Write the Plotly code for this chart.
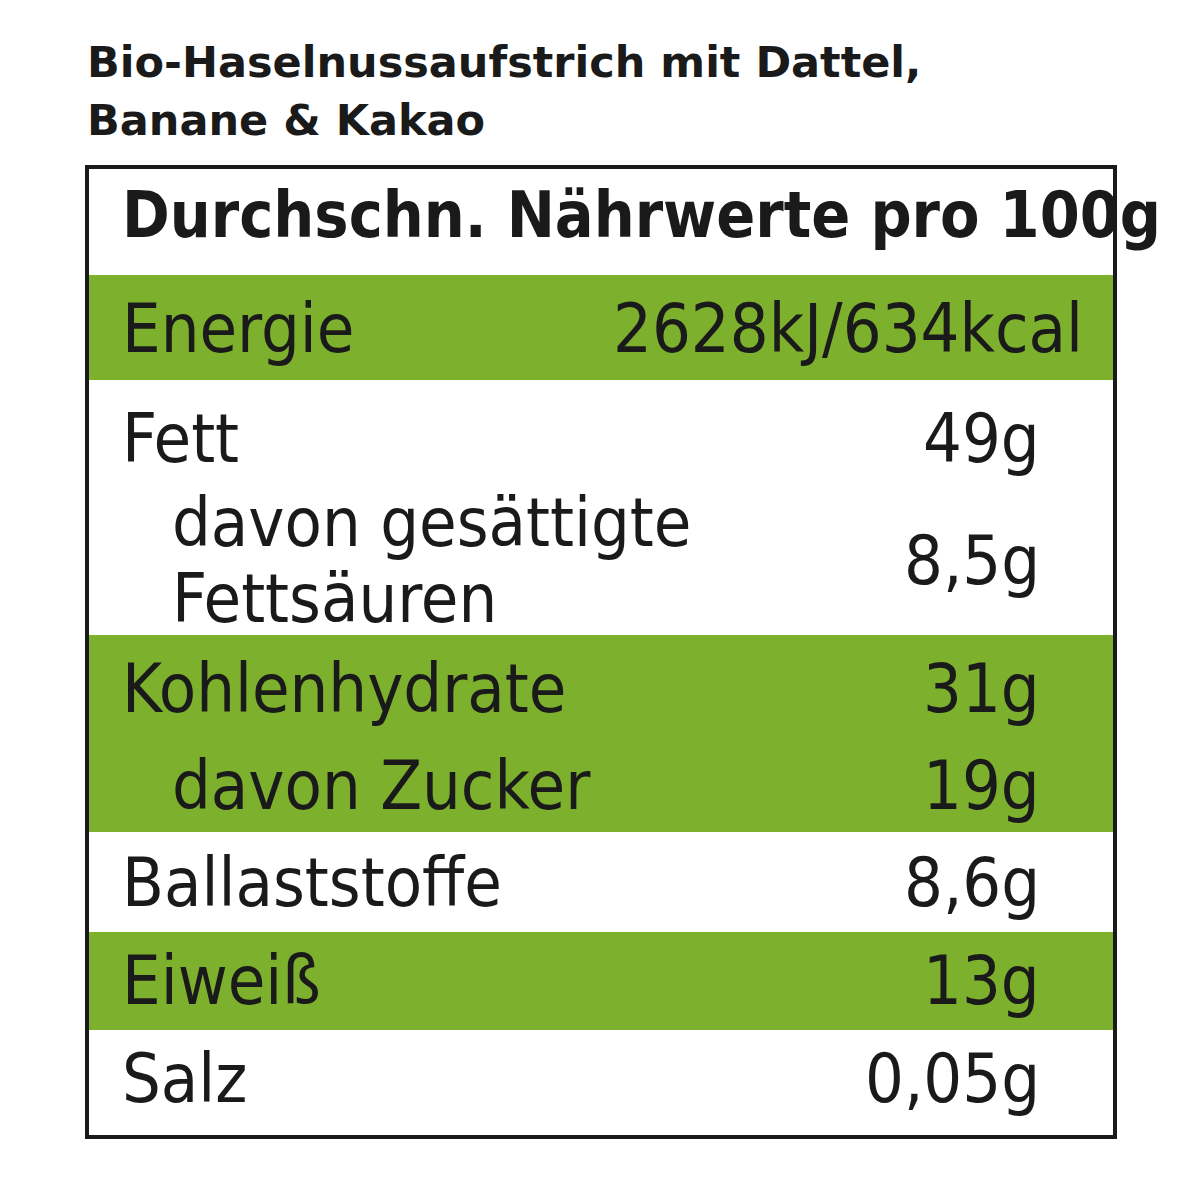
import plotly.graph_objects as go

title_lines = ["Bio-Haselnussaufstrich mit Dattel,", "Banane & Kakao"]
header = "Durchschn. Nährwerte pro 100g"
labels = ["Energie", "Fett", "davon gesättigte", "Fettsäuren", "Kohlenhydrate", "davon Zucker",
          "Ballaststoffe", "Eiweiß", "Salz"]
label_y = [328, 438, 522, 598, 688, 785, 882, 980, 1078]
indent = [False, False, True, True, False, True, False, False, False]
values = ["2628kJ/634kcal", "49g", "8,5g", "31g", "19g", "8,6g", "13g", "0,05g"]
value_y = [328, 438, 560, 688, 785, 882, 980, 1078]
green_bands = [(275, 380), (635, 832), (932, 1030)]
GREEN = "#7db12d"
FONT = "Liberation Sans Narrow, DejaVu Sans Condensed, Arial Narrow, sans-serif"
OFF = 8  # page body margin compensation

fig = go.Figure()
shapes = []
for y0, y1 in green_bands:
    shapes.append(dict(type="rect", x0=89 - OFF, x1=1113 - OFF, y0=y0 - OFF, y1=y1 - OFF,
                       fillcolor=GREEN, line_width=0, layer="below"))
shapes.append(dict(type="rect", x0=87 - OFF, x1=1115 - OFF, y0=167 - OFF, y1=1137 - OFF,
                   line=dict(color="#1a1a1a", width=4)))

ann = []
for i, t in enumerate(title_lines):
    ann.append(dict(x=85 - OFF, y=62 + 58 * i - OFF, text=f"<b>{t}</b>", xanchor="left", yanchor="middle",
                    showarrow=False, font=dict(family="DejaVu Sans, sans-serif", size=43, color="#1a1a1a")))
ann.append(dict(x=120 - OFF, y=215 - OFF, text=f"<b>{header}</b>", xanchor="left", yanchor="middle",
                showarrow=False, font=dict(family=FONT, size=64, color="#1a1a1a")))
for lab, ind, y in zip(labels, indent, label_y):
    ann.append(dict(x=(170 if ind else 120) - OFF, y=y - OFF, text=lab, xanchor="left", yanchor="middle",
                    showarrow=False, font=dict(family=FONT, size=68, color="#1a1a1a")))
for val, y in zip(values, value_y):
    ann.append(dict(x=(1085 if val.endswith("kcal") else 1042) - OFF, y=y - OFF, text=val, xanchor="right",
                    yanchor="middle", showarrow=False, font=dict(family=FONT, size=68, color="#1a1a1a")))

fig.add_trace(go.Scatter(x=[0, 1200], y=[0, 1200], mode="markers", marker_opacity=0, hoverinfo="skip"))
fig.update_layout(width=1200, height=1200, margin=dict(l=0, r=0, t=0, b=0), plot_bgcolor="white",
                  paper_bgcolor="white", showlegend=False, shapes=shapes, annotations=ann,
                  xaxis=dict(range=[0, 1200], visible=False),
                  yaxis=dict(range=[1200, 0], visible=False))
fig.write_html("out.html")
